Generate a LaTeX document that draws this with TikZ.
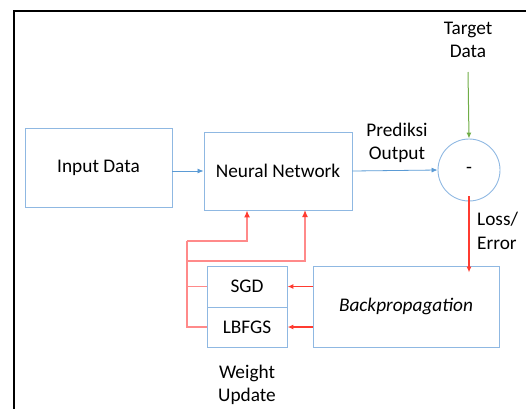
\documentclass[tikz,border=0pt]{standalone}
\usepackage{fontspec}
\setmainfont{Carlito}
\usetikzlibrary{arrows.meta,calc}
\definecolor{boxblue}{HTML}{8FB8E2}
\definecolor{arrblue}{HTML}{5B9BD5}
\definecolor{arrgreen}{HTML}{70AD47}
\definecolor{arrred}{HTML}{FF3B30}
\definecolor{pinkline}{HTML}{FF8A8A}
\begin{document}
\begin{tikzpicture}[x=1pt,y=-1pt,
  font=\fontsize{19.3}{23.5}\selectfont,
  blk/.style={draw=boxblue,line width=0.9pt,rectangle,inner sep=0pt},
  lbl/.style={align=center,inner sep=0pt},
  blueflow/.style={draw=arrblue,line width=0.8pt,-{Latex[length=6pt,width=5pt]}},
  greenflow/.style={draw=arrgreen,line width=1pt,-{Latex[length=6pt,width=5pt]}},
  redflow/.style={draw=arrred,line width=1.2pt,-{Latex[length=6pt,width=5pt,color=arrred]}},
  pinkflow/.style={draw=pinkline,line width=1.2pt,-{Latex[length=7pt,width=6pt,color=arrred]}},
  pinkpath/.style={draw=pinkline,line width=1.2pt}]
\useasboundingbox (0,0) rectangle (526,408);
\clip (0,0) rectangle (526,408);
% outer frame
\draw[line width=1.6pt,black] (14,420) -- (14,11) -- (540,11);
% blocks
\node[blk,minimum width=147pt,minimum height=79pt] (inp) at (98.5,167.5) {Input Data};
\node[blk,minimum width=148pt,minimum height=78pt] (nn) at (278,171) {Neural Network};
\node[draw=boxblue,line width=0.9pt,circle,minimum size=62pt,inner sep=0pt] (circ) at (469,170) {-};
\node[blk,minimum width=80pt,minimum height=41pt] (sgd) at (247,286.5) {SGD};
\node[blk,minimum width=80pt,minimum height=40pt] (lbfgs) at (247,327) {LBFGS};
\node[blk,minimum width=186pt,minimum height=81pt] (bp) at (406,306.5) {\itshape Backpropagation};
% labels
\node[lbl] (target) at (468,40) {Target\\Data};
\node[lbl] (pred) at (397,143) {Prediksi\\Output};
\node[lbl,align=left,anchor=west] (loss) at (477,231) {Loss/\\Error};
\node[lbl] (weight) at (247,385) {Weight\\Update};
% coordinates
\coordinate (tgtend) at (468,72);
\coordinate (jl) at (187,241);
\coordinate (jr) at (187,261);
\coordinate (jbot) at (187,327);
% connectors
\draw[blueflow] (inp.east |- nn.west) -- (nn.west);
\draw[blueflow] (nn.east) -- (circ.west);
\draw[greenflow] (tgtend) -- (circ.north);
\draw[redflow] ([yshift=5pt]circ.south) -- ([yshift=-7pt]circ.south |- bp.north);
\draw[redflow] (bp.west |- sgd.east) -- (sgd.east);
\draw[redflow] (bp.west |- lbfgs.east) -- (lbfgs.east);
\draw[pinkpath] (sgd.west) -- (sgd.west -| jbot);
\draw[pinkpath] (lbfgs.west) -- (jbot) -- (jl);
\draw[pinkflow] (jl) -- (jl -| sgd.north) -- (sgd.north |- nn.south);
\draw[pinkflow] (jr) -- (305,261) -- (305,210);
\end{tikzpicture}
\end{document}
